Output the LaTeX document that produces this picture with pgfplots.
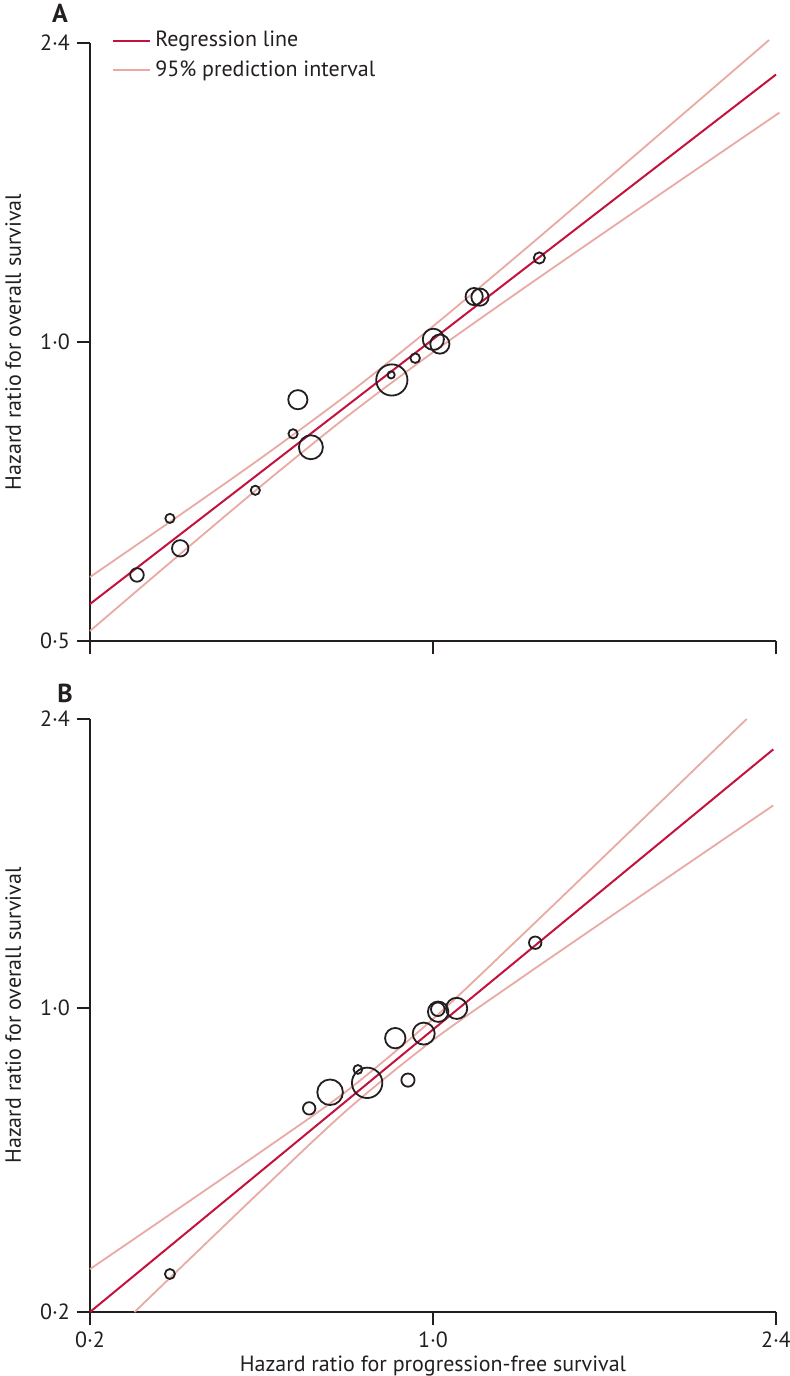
\documentclass[border=0pt]{standalone}
\usepackage{fontspec}
\setmainfont{PT Sans}
\usepackage{pgfplots}
\pgfplotsset{compat=1.18}

\definecolor{regred}{RGB}{196,18,62}
\definecolor{pired}{RGB}{232,170,162}
\definecolor{ink}{RGB}{35,31,32}

\pgfplotsset{
  hrpanel/.style={
    scale only axis, width=343pt,
    xmin=0, xmax=2, ymin=0,
    axis lines=left, axis line style={-, line width=1pt, ink},
    tick align=outside, major tick length=6.5pt,
    tick style={line width=1pt, ink},
    xtick={0,1,2},
    clip=false, enlargelimits=false,
    tick label style={font=\fontsize{11}{13}\selectfont, text=ink},
    label style={font=\fontsize{11}{13}\selectfont, text=ink},
    ylabel={Hazard ratio for overall survival},
    ylabel style={at={(axis description cs:-0.112,0.5)}, anchor=center},
  },
  bubble/.style={only marks, scatter, mark=o,
    scatter/use mapped color={draw=ink, fill=none},
    mark options={line width=0.9pt},
    visualization depends on={\thisrow{r}\as\rr},
    scatter/@pre marker code/.append style={/tikz/mark size=\rr pt}},
  reg/.style={regred, line width=1pt},
  pint/.style={pired, line width=0.9pt, smooth},
}

\begin{document}
\begin{tikzpicture}
\useasboundingbox (-45pt,-367.5pt) rectangle (350pt,320.5pt);

% panel A
\begin{axis}[hrpanel, height=299pt, ymax=2, at={(0,0)}, anchor=south west,
  ytick={0,1,2}, yticklabels={0·5,1·0,2·4}, xticklabels={},
  legend style={at={(0.032,1.027)}, anchor=north west, draw=none, fill=none,
    inner sep=0pt, row sep=1.5pt, font=\fontsize{11}{13}\selectfont, text=ink,
    cells={anchor=west}},
  legend image code/.code={\draw[#1] (0pt,0pt) -- (18.5pt,0pt);}]
\addplot[reg] coordinates {(0,0.1237) (2,1.8945)};
\addlegendentry{Regression line}
\addplot[pint] coordinates {(0,0.2139) (0.25,0.4118) (0.5,0.6131) (0.75,0.8242) (1,1.0526)
  (1.25,1.2927) (1.5,1.5370) (1.75,1.7831) (1.98,2.0100)};
\addlegendentry{95\% prediction interval}
\addplot[pint, forget plot] coordinates {(0,0.0335) (0.25,0.2784) (0.5,0.5197) (0.75,0.7514)
  (1,0.9656) (1.25,1.1683) (1.5,1.3666) (1.75,1.5633) (2.01,1.7671)};
\addplot[bubble, forget plot] table {
x y r
0.137 0.221 3.4
0.233 0.410 2.3
0.263 0.310 4.1
0.482 0.504 2.3
0.592 0.693 2.3
0.606 0.807 4.8
0.644 0.648 6.0
0.878 0.890 1.8
0.880 0.873 7.8
0.948 0.946 2.4
1.001 1.009 5.3
1.020 0.993 4.8
1.120 1.152 4.3
1.137 1.150 4.3
1.310 1.281 2.8
};
\end{axis}

% panel B
\begin{axis}[hrpanel, height=296.5pt, ymax=1.951, at={(0,-335.5pt)}, anchor=south west,
  ytick={0,1,1.951}, yticklabels={0·2,1·0,2·4}, xticklabels={0·2,1·0,2·4},
  xlabel={Hazard ratio for progression-free survival},
  xlabel style={at={(axis description cs:0.5,0)}, anchor=base, yshift=-29.5pt}]
\addplot[reg] coordinates {(0,0) (1.992,1.851)};
\addplot[pint] coordinates {(0,0.1411) (0.25,0.3341) (0.5,0.5283) (0.75,0.7286) (1,0.9639)
  (1.25,1.2296) (1.5,1.5002) (1.75,1.7719) (1.9145,1.9510)};
\addplot[pint] coordinates {(0.13,0.0) (0.25,0.1305) (0.5,0.4009) (0.75,0.6652) (1,0.8945)
  (1.25,1.0934) (1.5,1.2874) (1.75,1.4803) (1.992,1.6667)};
\addplot[bubble] table {
x y r
0.233 0.125 2.5
0.639 0.670 3.1
0.700 0.723 6.4
0.781 0.798 2.2
0.808 0.754 7.6
0.927 0.763 3.3
0.890 0.901 5.1
0.973 0.916 5.5
1.015 0.988 5.1
1.014 0.996 3.4
1.069 0.999 5.3
1.298 1.215 3.1
};
\end{axis}

\node[font=\bfseries\fontsize{13}{15}\selectfont, text=ink] at (-15pt,314pt) {A};
\node[font=\bfseries\fontsize{13}{15}\selectfont, text=ink] at (-12.5pt,-26pt) {B};
\end{tikzpicture}
\end{document}
